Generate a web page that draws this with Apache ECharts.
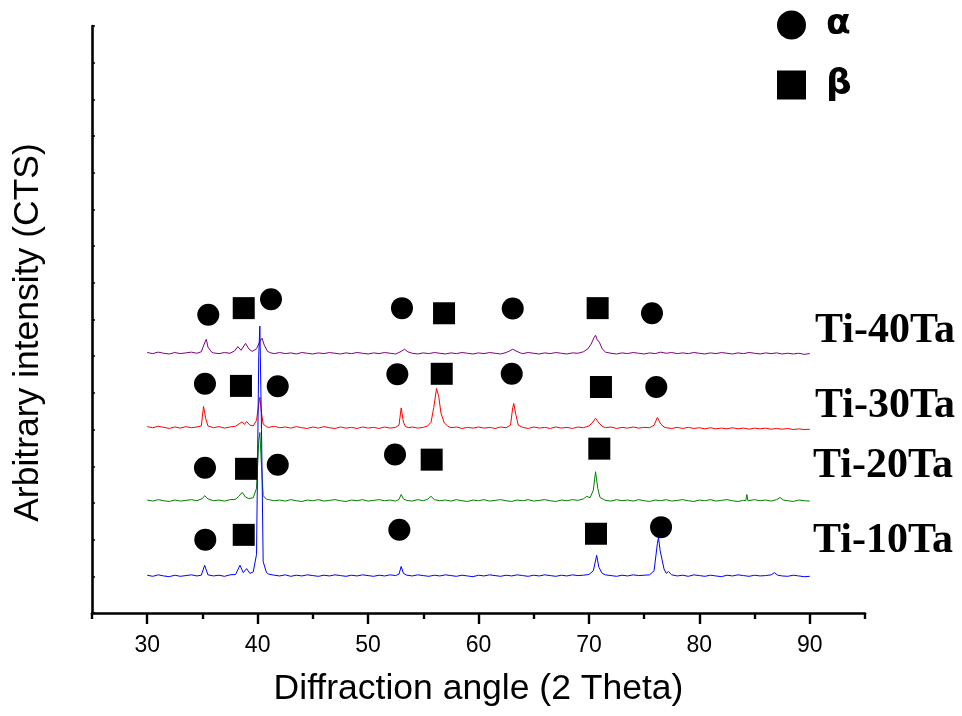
<!DOCTYPE html>
<html>
<head>
<meta charset="utf-8">
<script src="https://cdn.jsdelivr.net/npm/echarts@6/dist/echarts.min.js"></script>
<style>
  html, body { margin: 0; padding: 0; background: #fff; }
  #xrd_chart { width: 962px; height: 716px; }
</style>
</head>
<body>
<div id="xrd_chart"></div>
<script>
// tick positions of the 2-theta axis
var majorTicks = [30, 40, 50, 60, 70, 80, 90];
var minorTicks = [25, 35, 45, 55, 65, 75, 85, 95];

// Ti-10Ta (blue)
var ti10 = [
  [30,103],[30.5,100],[31,104],[31.5,101],[32,99],[32.5,103],[33,100],[33.5,102],[34,104],[34.5,101],
  [34.9,103],[35.2,130],[35.5,104],[36,101],[36.5,103],[37,100],[37.5,104],[38,105],[38.4,130],[38.7,110],
  [39,121],[39.3,108],[39.6,112],[39.9,160],[40.1,700],[40.2,782],[40.35,500],[40.5,140],[40.8,110],[41,106],
  [41.5,103],[42,101],[42.5,104],[43,100],[43.5,103],[44,101],[44.5,104],[45,102],[45.5,100],[46,103],
  [46.5,101],[47,104],[47.5,102],[48,100],[48.5,103],[49,101],[49.5,104],[50,102],[50.5,100],[51,103],
  [51.5,101],[52,104],[52.5,102],[52.8,106],[53,127],[53.2,108],[53.5,103],[54,101],[54.5,104],[55,102],
  [55.5,100],[56,103],[56.5,101],[57,104],[57.5,102],[58,100],[58.5,103],[59,101],[59.5,99],[60,103],
  [60.5,101],[61,104],[61.5,102],[62,100],[62.5,103],[63,101],[63.5,104],[64,102],[64.5,100],[65,103],
  [65.5,101],[66,104],[66.5,102],[67,100],[67.5,103],[68,101],[68.5,104],[69,102],[69.5,103],[70,105],
  [70.4,115],[70.7,157],[70.9,125],[71.2,108],[71.5,104],[72,102],[72.5,100],[73,103],[73.5,101],[74,104],
  [74.5,102],[75,103],[75.5,104],[75.9,115],[76.2,190],[76.3,206],[76.45,170],[76.6,165],[76.8,120],[77,108],
  [77.2,113],[77.5,104],[78,101],[78.5,103],[79,100],[79.5,104],[80,102],[80.5,100],[81,103],[81.5,101],
  [82,99],[82.5,103],[83,101],[83.5,104],[84,102],[84.5,100],[85,103],[85.5,101],[86,102],[86.5,104],
  [86.8,110],[87.1,103],[87.5,101],[88,100],[88.5,103],[89,101],[89.5,99],[90,100]
];

// Ti-20Ta (green)
var ti20 = [
  [30,308],[30.5,305],[31,309],[31.5,306],[32,304],[32.5,308],[33,305],[33.5,307],[34,309],[34.5,306],
  [35,312],[35.2,320],[35.5,311],[36,306],[36.5,308],[37,305],[37.5,309],[38,310],[38.3,318],[38.6,329],
  [38.9,316],[39.2,312],[39.6,314],[39.9,340],[40.1,470],[40.2,492],[40.35,400],[40.5,320],[40.8,310],[41,309],
  [41.5,306],[42,308],[42.5,305],[43,309],[43.5,306],[44,304],[44.5,308],[45,306],[45.5,309],[46,305],
  [46.5,307],[47,309],[47.5,306],[48,304],[48.5,308],[49,306],[49.5,309],[50,305],[50.5,307],[51,309],
  [51.5,306],[52,308],[52.5,305],[52.8,310],[53,323],[53.2,311],[53.5,307],[54,305],[54.5,309],[55,306],
  [55.4,310],[55.7,318],[56,309],[56.5,306],[57,308],[57.5,305],[58,309],[58.5,306],[59,304],[59.5,308],
  [60,306],[60.5,309],[61,305],[61.5,307],[62,309],[62.5,306],[63,304],[63.5,308],[64,306],[64.5,309],
  [65,305],[65.5,307],[66,309],[66.5,306],[67,304],[67.5,308],[68,306],[68.5,309],[69,307],[69.5,311],
  [69.8,318],[70.1,314],[70.4,335],[70.6,385],[70.8,340],[71,315],[71.3,310],[71.5,307],[72,305],[72.5,309],
  [73,306],[73.5,308],[74,305],[74.5,309],[75,306],[75.5,304],[76,308],[76.5,306],[77,309],[77.5,305],
  [78,307],[78.5,309],[79,306],[79.5,304],[80,308],[80.5,306],[81,309],[81.5,305],[82,307],[82.5,309],
  [83,306],[83.5,304],[84,307],[84.2,306],[84.3,323],[84.4,306],[84.5,305],[85,309],[85.5,306],[86,308],
  [86.5,305],[87,309],[87.3,315],[87.6,308],[88,306],[88.5,304],[89,308],[89.5,306],[90,305]
];

// Ti-30Ta (red)
var ti30 = [
  [30,508],[30.5,505],[31,509],[31.5,506],[32,503],[32.5,507],[33,504],[33.5,508],[34,505],[34.5,507],
  [34.9,510],[35.1,563],[35.3,530],[35.5,510],[36,505],[36.5,508],[37,504],[37.5,507],[38,509],[38.3,515],
  [38.6,521],[38.8,514],[39,522],[39.3,512],[39.6,510],[39.9,525],[40.1,570],[40.2,588],[40.35,545],[40.5,515],
  [40.8,508],[41,506],[41.5,509],[42,505],[42.5,507],[43,504],[43.5,508],[44,505],[44.5,503],[45,507],
  [45.5,504],[46,508],[46.5,505],[47,503],[47.5,507],[48,504],[48.5,506],[49,503],[49.5,507],[50,504],
  [50.5,506],[51,503],[51.5,507],[52,504],[52.5,506],[52.8,512],[53,559],[53.2,520],[53.4,508],[53.7,505],
  [54,507],[54.5,504],[55,506],[55.4,510],[55.7,520],[55.95,560],[56.2,612],[56.4,590],[56.6,545],[56.9,518],
  [57.2,510],[57.5,505],[58,507],[58.5,503],[59,506],[59.5,504],[60,507],[60.5,504],[61,506],[61.5,503],
  [62,507],[62.5,505],[62.9,512],[63.1,560],[63.2,571],[63.35,545],[63.6,512],[64,506],[64.5,503],[65,507],
  [65.5,504],[66,506],[66.5,503],[67,507],[67.5,504],[68,506],[68.5,503],[69,507],[69.5,505],[70,510],
  [70.3,518],[70.6,531],[70.9,518],[71.2,509],[71.5,505],[72,507],[72.5,503],[73,506],[73.5,504],[74,507],
  [74.5,504],[75,506],[75.5,505],[75.9,512],[76.2,533],[76.3,537],[76.5,515],[76.8,507],[77,505],[77.5,503],
  [78,506],[78.5,503],[79,506],[79.5,503],[80,505],[80.5,502],[81,505],[81.5,502],[82,504],[82.5,502],
  [83,505],[83.5,502],[84,504],[84.5,501],[85,504],[85.5,502],[86,504],[86.5,501],[87,503],[87.5,501],
  [88,503],[88.5,500],[89,502],[89.5,500],[90,501]
];

// Ti-40Ta (purple)
var ti40 = [
  [30,710],[30.5,707],[31,711],[31.5,708],[32,706],[32.5,710],[33,707],[33.5,709],[34,711],[34.5,708],
  [34.9,712],[35.2,736],[35.35,746],[35.5,725],[35.8,712],[36,709],[36.5,707],[37,710],[37.5,708],[37.9,714],
  [38.2,726],[38.5,716],[38.9,735],[39.2,720],[39.5,713],[39.9,720],[40.2,740],[40.4,749],[40.6,730],[40.9,713],
  [41.2,709],[41.5,707],[42,710],[42.5,707],[43,709],[43.5,706],[44,710],[44.5,708],[45,706],[45.5,709],
  [46,707],[46.5,710],[47,708],[47.5,706],[48,709],[48.5,707],[49,710],[49.5,708],[50,706],[50.5,709],
  [51,707],[51.5,710],[52,708],[52.5,706],[53,713],[53.3,719],[53.6,712],[54,708],[54.5,706],[55,709],
  [55.5,707],[56,710],[56.5,708],[57,706],[57.5,709],[58,707],[58.5,710],[59,708],[59.5,706],[60,709],
  [60.5,707],[61,710],[61.5,708],[62,706],[62.5,710],[62.8,714],[63.1,719],[63.4,714],[63.8,709],[64,707],
  [64.5,710],[65,708],[65.5,706],[66,709],[66.5,707],[67,710],[67.5,708],[68,706],[68.5,709],[69,708],
  [69.5,712],[69.9,720],[70.2,733],[70.45,750],[70.6,757],[70.75,745],[70.95,738],[71.2,720],[71.5,711],[72,708],
  [72.5,706],[73,709],[73.5,707],[74,710],[74.5,708],[75,706],[75.5,709],[76,707],[76.5,711],[77,708],
  [77.5,710],[78,707],[78.5,709],[79,707],[79.5,710],[80,708],[80.5,706],[81,709],[81.5,707],[82,710],
  [82.5,708],[83,706],[83.5,709],[84,707],[84.5,710],[85,708],[85.5,706],[86,709],[86.5,707],[87,709],
  [87.5,706],[88,708],[88.5,706],[89,708],[89.5,705],[90,707]
];

// phase markers (alpha = circle, beta = square)
var alphaMarks = [
  [35.53,813],[41.21,855],[53.07,831],[63.10,830],[75.71,817],
  [35.23,625],[41.82,618],[52.65,651],[63.01,652],[76.10,616],
  [35.23,396],[41.82,404],[52.44,432],
  [35.26,200],[52.83,227],[76.53,234]
];
var betaMarks = [
  [38.74,831],[56.88,817],[70.79,831],
  [38.49,619],[56.67,652],[71.09,616],
  [38.95,393],[55.76,418],[70.94,448],
  [38.74,213],[70.64,216]
];

var sampleNames = ['Ti-40Ta', 'Ti-30Ta', 'Ti-20Ta', 'Ti-10Ta'];
var sampleColors = ['#800080', '#ff0000', '#008000', '#0000ff'];

var myChart = echarts.init(document.getElementById('xrd_chart'));

var lineSeries = [ti40, ti30, ti20, ti10].map(function (d, i) {
    return {
        name: sampleNames[i],
        type: 'line',
        data: d,
        showSymbol: false,
        silent: true,
        z: 2 + i,
        lineStyle: { color: sampleColors[i], width: 1 }
    };
});

var labelY = [330, 405, 465, 540];
var labelX = [815, 815, 813, 813];

option = {
    animation: false,
    backgroundColor: '#fff',
    grid: { left: 92, right: 97, top: 26, bottom: 103 },
    legend: {
        left: 772,
        top: 2,
        orient: 'vertical',
        itemWidth: 29,
        itemHeight: 29,
        itemGap: 24,
        data: [
            { name: 'α', icon: 'circle' },
            { name: 'β', icon: 'rect' }
        ],
        textStyle: {
            fontFamily: 'DejaVu Sans',
            fontWeight: 'bold',
            fontSize: 36,
            color: '#000',
            padding: [0, 0, 0, 15]
        }
    },
    xAxis: [{
        type: 'value',
        min: 25,
        max: 95,
        name: 'Diffraction angle (2 Theta)',
        nameLocation: 'middle',
        nameGap: 58,
        nameTextStyle: { fontFamily: 'Liberation Sans', fontSize: 35.5, color: '#000' },
        splitLine: { show: false },
        axisLine: { lineStyle: { color: '#000', width: 2.6 } },
        axisTick: { show: true, length: 11, customValues: majorTicks, lineStyle: { color: '#000', width: 2.4 } },
        axisLabel: { customValues: majorTicks, margin: 21, fontFamily: 'Liberation Sans', fontSize: 23, color: '#000' }
    }, {
        type: 'value',
        min: 25,
        max: 95,
        position: 'bottom',
        axisLine: { show: false },
        splitLine: { show: false },
        axisTick: { show: true, length: 6, customValues: minorTicks, lineStyle: { color: '#000', width: 2.4 } },
        axisLabel: { show: false }
    }],
    yAxis: {
        type: 'value',
        min: 0,
        max: 1600,
        interval: 100,
        name: 'Arbitrary intensity (CTS)',
        nameLocation: 'middle',
        nameGap: 46,
        nameTextStyle: { fontFamily: 'Liberation Sans', fontSize: 35.5, color: '#000', padding: [0, 26, 0, 0] },
        splitLine: { show: false },
        axisLine: { lineStyle: { color: '#000', width: 2.6 } },
        axisTick: { inside: true, length: 3, lineStyle: { color: '#000', width: 1.5 } },
        axisLabel: { show: false }
    },
    series: lineSeries.concat([
        {
            name: 'α',
            type: 'scatter',
            symbol: 'circle',
            symbolSize: 22,
            z: 10,
            itemStyle: { color: '#000', opacity: 1 },
            data: alphaMarks
        },
        {
            name: 'β',
            type: 'scatter',
            symbol: 'rect',
            symbolSize: 22,
            z: 10,
            itemStyle: { color: '#000', opacity: 1 },
            data: betaMarks
        }
    ]),
    graphic: sampleNames.map(function (n, i) {
        return {
            type: 'text',
            left: labelX[i],
            top: labelY[i] - 20,
            style: {
                text: n,
                fontFamily: 'Liberation Serif',
                fontWeight: 'bold',
                fontSize: 42,
                fill: '#000'
            }
        };
    })
};

myChart.setOption(option, true);
</script>
</body>
</html>
